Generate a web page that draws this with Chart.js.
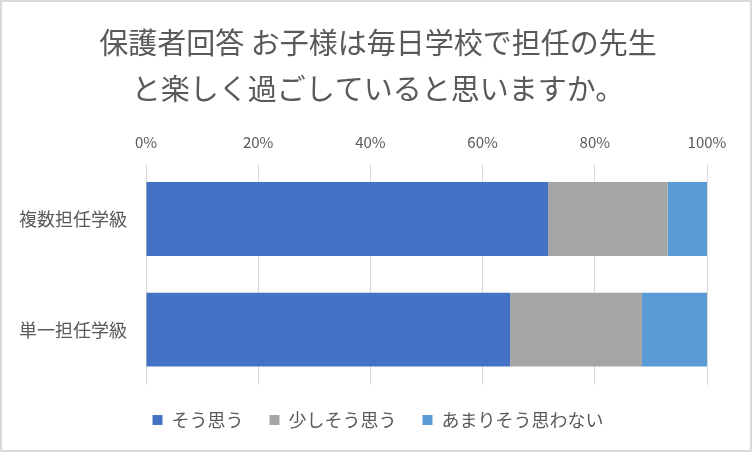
<!DOCTYPE html>
<html>
<head>
<meta charset="utf-8">
<script src="https://cdn.jsdelivr.net/npm/chart.js@4/dist/chart.umd.min.js"></script>
<style>
  body { margin: 0; background: #fff; }
  #wrap { width: 748px; height: 448px; border: 2px solid #d9d9d9; background: #fff; }
</style>
</head>
<body>
<div id="wrap"><canvas id="chart" width="748" height="448"></canvas></div>
<script>
const titleLines = ["保護者回答 お子様は毎日学校で担任の先生", "と楽しく過ごしていると思いますか。"];
const categories = ["複数担任学級", "単一担任学級"];
const seriesNames = ["そう思う", "少しそう思う", "あまりそう思わない"];
const yes = [71.7, 64.9];
const someYes = [21.3, 23.5];
const notReally = [7.0, 11.6];
const colors = ["#4472c4", "#a5a5a5", "#5b9bd5"];

const fontFamily = "'Noto Sans CJK JP', 'Noto Sans', sans-serif";
const textColor = "#595959";

const datasets = [yes, someYes, notReally].map((data, i) => {
  return {
    label: seriesNames[i],
    data,
    backgroundColor: colors[i],
    borderWidth: 0,
    categoryPercentage: 1,
    barPercentage: 0.667,
  };
});

const config = {
  type: "bar",
  data: { labels: categories, datasets },
  options: {
    indexAxis: "y",
    responsive: false,
    animation: false,
    layout: { padding: { left: 12, right: 8, top: 18, bottom: 11 } },
    plugins: {
      title: {
        display: true,
        text: titleLines,
        color: textColor,
        font: { family: fontFamily, size: 29, weight: "normal", lineHeight: 1.58 },
        padding: { top: 0, bottom: 10 },
      },
      legend: {
        position: "bottom",
        labels: {
          color: textColor,
          font: { family: fontFamily, size: 18 },
          boxWidth: 10,
          boxHeight: 10,
          padding: 26,
        },
      },
      tooltip: { enabled: false },
    },
    scales: {
      x: {
        position: "top",
        stacked: true,
        min: 0,
        max: 100,
        ticks: {
          stepSize: 20,
          color: textColor,
          font: { family: fontFamily, size: 15 },
          padding: 12,
          callback: (v) => v + "%",
        },
        grid: { color: "#d9d9d9", lineWidth: 1, drawTicks: false },
        border: { display: false },
      },
      y: {
        stacked: true,
        ticks: {
          color: textColor,
          font: { family: fontFamily, size: 18 },
          padding: 19,
        },
        grid: { display: false, drawTicks: false },
        border: { display: false },
        afterFit: (scale) => {
          scale.width = 132;
        },
      },
      // empty right-hand axis that only keeps a margin right of the plot
      yRight: {
        type: "category",
        position: "right",
        ticks: { display: false },
        grid: { display: false, drawTicks: false },
        border: { display: false },
        afterFit: (scale) => {
          scale.width = 35;
        },
      },
    },
  },
};

new Chart(document.getElementById("chart"), config);
</script>
</body>
</html>
